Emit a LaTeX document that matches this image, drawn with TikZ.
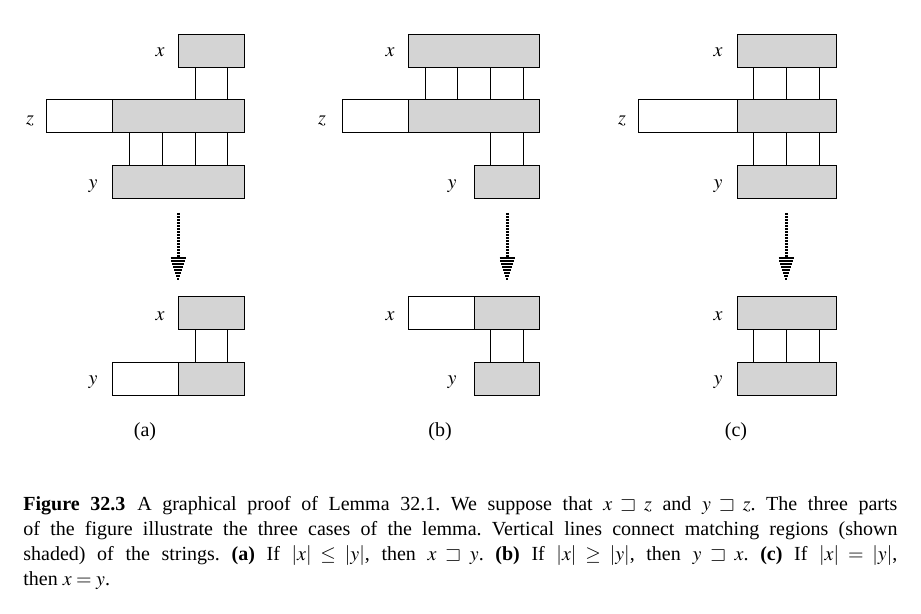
\documentclass[tikz,border=0pt]{standalone}
\usepackage{mathptmx}
\usepackage{amssymb}
\usepackage[no-math]{fontspec}
\setmainfont{Liberation Serif}
\frenchspacing
\tikzset{
  shaded/.style={draw, line width=0.5pt, fill=black!17},
  blank/.style={draw, line width=0.5pt, fill=white},
  link/.style={line width=0.5pt},
  lbl/.style={inner sep=0pt},
}
\begin{document}
\begin{tikzpicture}[x=0.5pt,y=-0.5pt]
\useasboundingbox (0,0) rectangle (921,614);
% (a)
\draw[shaded] (178,35) rectangle (244,68);
\draw[blank] (46,100) rectangle (112,133);
\draw[shaded] (112,100) rectangle (244,133);
\draw[shaded] (112,166) rectangle (244,199);
\foreach \lx in {195,227} \draw[link] (\lx,68) -- (\lx,100);
\foreach \lx in {129,162,195,227} \draw[link] (\lx,133) -- (\lx,166);
\node[lbl] (xa) at (160,52) {$x$};
\node[lbl] (za) at (30,121) {$z$};
\node[lbl] (ya) at (93,186) {$y$};
\draw[shaded] (178,297) rectangle (244,330);
\draw[blank] (112,363) rectangle (178,396);
\draw[shaded] (178,363) rectangle (244,396);
\foreach \lx in {195,227} \draw[link] (\lx,330) -- (\lx,363);
\node[lbl] (xa2) at (160,316) {$x$};
\node[lbl] (ya2) at (93,382) {$y$};
\node (capa) at (145,432) {(a)};
% (b)
\draw[shaded] (408,35) rectangle (539,68);
\draw[blank] (342,100) rectangle (408,133);
\draw[shaded] (408,100) rectangle (539,133);
\draw[shaded] (474,166) rectangle (539,199);
\foreach \lx in {425,457,490,523} \draw[link] (\lx,68) -- (\lx,100);
\foreach \lx in {490,523} \draw[link] (\lx,133) -- (\lx,166);
\node[lbl] (xb) at (390,52) {$x$};
\node[lbl] (zb) at (322,121) {$z$};
\node[lbl] (yb) at (452,186) {$y$};
\draw[blank] (408,297) rectangle (474,330);
\draw[shaded] (474,297) rectangle (539,330);
\draw[shaded] (474,363) rectangle (539,396);
\foreach \lx in {490,523} \draw[link] (\lx,330) -- (\lx,363);
\node[lbl] (xb2) at (390,316) {$x$};
\node[lbl] (yb2) at (452,382) {$y$};
\node (capb) at (440,432) {(b)};
% (c)
\draw[shaded] (737,35) rectangle (836,68);
\draw[blank] (638,100) rectangle (737,133);
\draw[shaded] (737,100) rectangle (836,133);
\draw[shaded] (737,166) rectangle (836,199);
\foreach \lx in {753,786,819} {
  \draw[link] (\lx,68) -- (\lx,100);
  \draw[link] (\lx,133) -- (\lx,166);
  \draw[link] (\lx,330) -- (\lx,363);
}
\node[lbl] (xc) at (718,52) {$x$};
\node[lbl] (zc) at (622,121) {$z$};
\node[lbl] (yc) at (718,186) {$y$};
\draw[shaded] (737,297) rectangle (836,330);
\draw[shaded] (737,363) rectangle (836,396);
\node[lbl] (xc2) at (718,316) {$x$};
\node[lbl] (yc2) at (718,382) {$y$};
\node (capc) at (736,432) {(c)};
% dotted arrows
\foreach \ax/\nm in {178/a,507/b,786/c} {
  \coordinate (top\nm) at (\ax,213);
  \coordinate (tip\nm) at (\ax,282);
  \draw[line width=1.5pt, dash pattern=on 0.8pt off 0.7pt] (top\nm) -- (\ax,258);
  \foreach \k in {0,...,7} {
    \pgfmathsetmacro{\sy}{258+3*\k}
    \pgfmathsetmacro{\hw}{7.5*(282-\sy)/24}
    \draw[line width=0.75pt] ({\ax-\hw},\sy) -- ({\ax+\hw},\sy);
  }
}
% caption
\node[anchor=base west, inner sep=0pt, text width=437pt, align=justify,
      font=\fontsize{10}{12.5}\selectfont] (caption) at (23,510.5)
  {\textbf{Figure 32.3}\hspace{0.6em}A graphical proof of Lemma 32.1. We suppose that $x \sqsupset z$ and $y \sqsupset z$. The three parts\linebreak
   of the figure illustrate the three cases of the lemma. Vertical lines connect matching regions (shown\linebreak
   shaded) of the strings. \textbf{(a)} If $|x| \le |y|$, then $x \sqsupset y$. \textbf{(b)} If $|x| \ge |y|$, then $y \sqsupset x$. \textbf{(c)} If $|x| = |y|$,\linebreak
   then $x = y$.};
\end{tikzpicture}
\end{document}
